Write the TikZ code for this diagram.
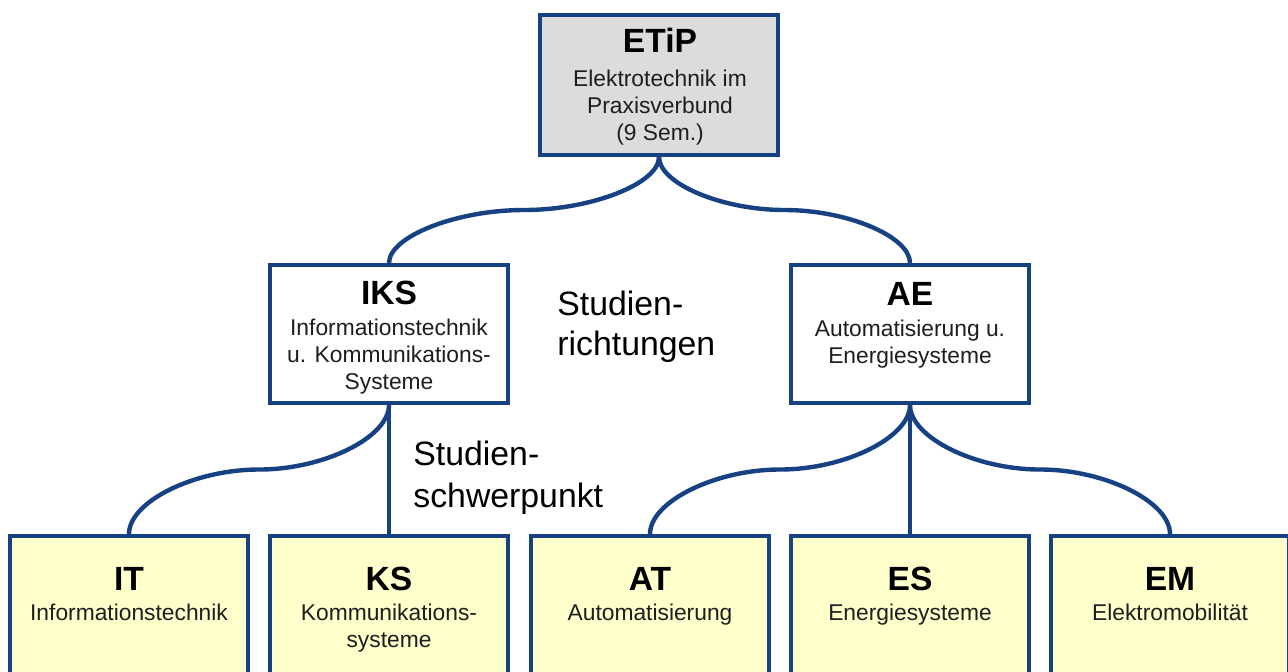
\documentclass[tikz,border=0pt]{standalone}
\usepackage{fontspec}
\setmainfont{Liberation Sans}
\usetikzlibrary{calc}
\definecolor{bord}{RGB}{22,66,132}
\definecolor{grayfill}{RGB}{220,220,220}
\definecolor{yellowfill}{RGB}{255,255,204}
\definecolor{subtext}{RGB}{30,30,30}
\newcommand{\titlef}{\fontsize{16.8}{19}\selectfont\bfseries}
\newcommand{\subf}{\fontsize{11.4}{13.5}\selectfont}
\newcommand{\sidef}{\fontsize{16.9}{20}\selectfont}
\begin{document}
\begin{tikzpicture}[x=0.5pt,y=-0.5pt,
  box/.style={draw=bord,line width=2pt,rectangle,inner sep=0pt,minimum width=119pt},
  topbox/.style={box,fill=grayfill,minimum height=70pt},
  midbox/.style={box,fill=white,minimum height=69pt},
  leafbox/.style={box,fill=yellowfill,minimum height=90pt},
  ttl/.style={anchor=base,font=\titlef,text=black,inner sep=0pt},
  sub/.style={anchor=base,font=\subf,text=subtext,inner sep=0pt},
  side/.style={anchor=base west,font=\sidef,text=black,inner sep=0pt},
  conn/.style={draw=bord,line width=2.2pt},
  pcurve/.style={to path={let \p1=(\tikztostart), \p2=(\tikztotarget) in
    .. controls (\x1,{\y1+(\y2-\y1)/4}) and ({\x1+(\x2-\x1)/4},{(\y1+\y2)/2})
    .. ({(\x1+\x2)/2},{(\y1+\y2)/2})
    .. controls ({\x1+3*(\x2-\x1)/4},{(\y1+\y2)/2}) and (\x2,{\y1+3*(\y2-\y1)/4})
    .. (\p2)}}
]
\useasboundingbox (0,0) rectangle (1288,671);
\clip (0,0) rectangle (1288,671);
\fill[white] (0,0) rectangle (1288,671);

% boxes
\node[topbox] (ETiP) at (659,85) {};
\node[midbox] (IKS) at (389,334) {};
\node[midbox] (AE) at (910,334) {};
\node[leafbox] (IT) at (129,626) {};
\node[leafbox] (KS) at (389,626) {};
\node[leafbox] (AT) at (650,626) {};
\node[leafbox] (ES) at (910,626) {};
\node[leafbox] (EM) at (1170,626) {};

% connectors
\draw[conn] (ETiP.south) to[pcurve] (IKS.north);
\draw[conn] (ETiP.south) to[pcurve] (AE.north);
\draw[conn] (IKS.south) to[pcurve] (IT.north);
\draw[conn] (IKS.south) -- (KS.north);
\draw[conn] (AE.south) to[pcurve] (AT.north);
\draw[conn] (AE.south) -- (ES.north);
\draw[conn] (AE.south) to[pcurve] (EM.north);

% texts
\node[ttl] (ETiPt) at (660,52) {ETiP};
\node[sub] (ETiPs) at (660,86) {\begin{tabular}[t]{@{}c@{}}Elektrotechnik im\\Praxisverbund\\(9 Sem.)\end{tabular}};

\node[ttl] (IKSt) at (389,304) {IKS};
\node[sub] (IKSs) at (389,335) {\begin{tabular}[t]{@{}c@{}}Informationstechnik\\u. Kommunikations-\\Systeme\end{tabular}};

\node[ttl] (AEt) at (910,305) {AE};
\node[sub] (AEs) at (910,336) {\begin{tabular}[t]{@{}c@{}}Automatisierung u.\\Energiesysteme\end{tabular}};

\node[ttl] (ITt) at (129,590) {IT};
\node[sub] (ITs) at (129,620) {Informationstechnik};

\node[ttl] (KSt) at (389,590) {KS};
\node[sub] (KSs) at (389,620) {\begin{tabular}[t]{@{}c@{}}Kommunikations-\\systeme\end{tabular}};

\node[ttl] (ATt) at (650,590) {AT};
\node[sub] (ATs) at (650,620) {Automatisierung};

\node[ttl] (ESt) at (910,590) {ES};
\node[sub] (ESs) at (910,620) {Energiesysteme};

\node[ttl] (EMt) at (1170,590) {EM};
\node[sub] (EMs) at (1170,620) {Elektromobilität};

% side labels
\node[side] (richt) at (557,315) {\begin{tabular}[t]{@{}l@{}}Studien-\\richtungen\end{tabular}};
\node[side] (schwer) at (413,465) {\fontsize{16.9}{21}\selectfont\begin{tabular}[t]{@{}l@{}}Studien-\\schwerpunkt\end{tabular}};
\end{tikzpicture}
\end{document}
